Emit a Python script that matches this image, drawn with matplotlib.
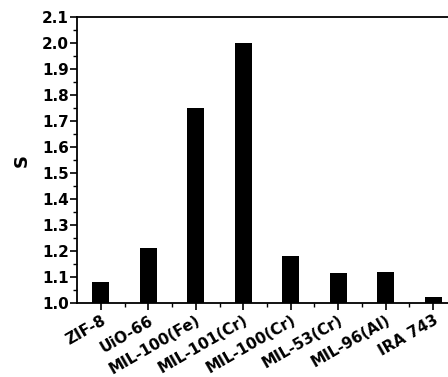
import matplotlib.pyplot as plt
from matplotlib.ticker import MultipleLocator

# 各吸附剂的选择性 S
materials = ['ZIF-8', 'UiO-66', 'MIL-100(Fe)', 'MIL-101(Cr)', 'MIL-100(Cr)',
             'MIL-53(Cr)', 'MIL-96(Al)', 'IRA 743']
s_values = [1.08, 1.21, 1.75, 2.00, 1.183, 1.116, 1.118, 1.024]

plt.rcParams['font.family'] = ['DejaVu Sans']
plt.rcParams['font.weight'] = 'bold'

fig = plt.figure(figsize=(4.48, 3.77), dpi=100)
# 右边框落在画布之外
ax = fig.add_axes([0.172, 0.196, 0.848, 0.759])

x = list(range(1, len(materials) + 1))
ax.bar(x, s_values, width=0.36, bottom=0, color='black')

ax.set_ylim(1.0, 2.1)
ax.set_xlim(0.5, 8.5)
ax.yaxis.set_major_locator(MultipleLocator(0.1))
ax.yaxis.set_minor_locator(MultipleLocator(0.05))
ax.set_xticks(x)
ax.set_xticks([i + 0.5 for i in x[:-1]], minor=True)
ax.set_xticklabels(materials, rotation=30, ha='right', rotation_mode='anchor',
                   fontsize=11, fontweight='bold')
ax.set_yticklabels(['%.1f' % v for v in ax.get_yticks()], fontsize=11, fontweight='bold')

ax.tick_params(which='major', direction='out', length=5, width=1.2)
ax.tick_params(which='minor', direction='out', length=3, width=1.0)
ax.tick_params(axis='x', pad=2)
ax.tick_params(axis='y', pad=1)
for side in ['left', 'bottom', 'top', 'right']:
    ax.spines[side].set_linewidth(1.3)

ax.set_ylabel('S', fontsize=13, fontweight='bold', labelpad=8)

fig.savefig('out.png', dpi=100)
